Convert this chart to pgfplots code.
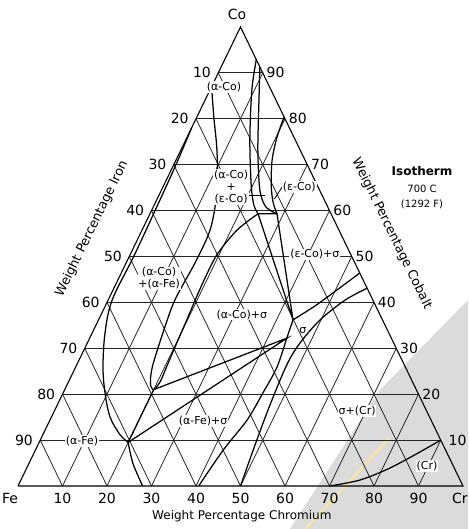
\documentclass[border=0pt]{standalone}
\usepackage{pgfplots}
\pgfplotsset{compat=1.18}
\usepackage{fontspec}
\setmainfont{DejaVu Sans}
\definecolor{scanyel}{RGB}{246,226,170}
\tikzset{gridl/.style={black!85,line width=0.8pt},
  pb/.style={black,line width=1.25pt},
  lab/.style={font=\fontsize{11}{12}\selectfont,fill=white,inner sep=0.8pt},
  tk/.style={font=\fontsize{14}{15}\selectfont,inner sep=1pt},
  tl/.style={tk,anchor=east},
  tr/.style={tk,anchor=west}}
\newcommand{\gl}[4]{\addplot[gridl] table[row sep=\\]{cr co\\ #1 #2\\ #3 #4\\};}
\begin{document}
\begin{tikzpicture}
\path[use as bounding box] (0,0) rectangle (468pt,529pt);
\begin{axis}[at={(18pt,43pt)},anchor=south west,width=445pt,height=459pt,scale only axis,
  xmin=0,xmax=100,ymin=0,ymax=100,axis lines=none,clip=false,
  table/x expr={\thisrow{cr}+0.5*\thisrow{co}}, table/y=co]
% scan shadow
\addplot[fill=black!14,draw=none] coordinates {(101.1,40.5) (81.3,20.9) (61.1,-9.4) (101.1,-9.4)};
\addplot[scanyel,line width=2.5pt] coordinates {(64.5,-9.4) (83.6,10.7)};
% grid: constant Co
\gl{0}{10}{90}{10}\gl{0}{20}{80}{20}\gl{0}{30}{70}{30}\gl{0}{40}{60}{40}\gl{0}{50}{50}{50}
\gl{0}{60}{40}{60}\gl{0}{70}{30}{70}\gl{0}{80}{20}{80}\gl{0}{90}{10}{90}
% constant Cr
\gl{10}{0}{10}{90}\gl{20}{0}{20}{80}\gl{30}{0}{30}{70}\gl{40}{0}{40}{60}\gl{50}{0}{50}{50}
\gl{60}{0}{60}{40}\gl{70}{0}{70}{30}\gl{80}{0}{80}{20}\gl{90}{0}{90}{10}
% constant Fe
\gl{10}{0}{0}{10}\gl{20}{0}{0}{20}\gl{30}{0}{0}{30}\gl{40}{0}{0}{40}\gl{50}{0}{0}{50}
\gl{60}{0}{0}{60}\gl{70}{0}{0}{70}\gl{80}{0}{0}{80}\gl{90}{0}{0}{90}
% frame
\addplot[black,line width=1.1pt] table[row sep=\\]{cr co\\ 0 0\\ 100 0\\ 0 100\\ 0 0\\};
% alpha-Fe boundary
\addplot[pb,smooth,tension=0.55] table{
cr co
0 78
0.5 70
0.8 60
1.0 50
0.9 40.5
2.9 33.3
6.15 25.9
9.4 20.3
13.2 15.0
17.3 11.2
20 9.5
};
\addplot[pb,smooth] table{
cr co
20 9.5
23.3 5.0
28 0
};
% alpha-Co boundary with tongue
\addplot[pb,smooth,tension=0.5] table{
cr co
0 87
3.8 80.4
8.1 73.2
12.5 64.5
15.2 56.2
15.5 49.2
15.0 40.5
15.9 33.3
17.2 26.0
18.6 22.3
20 21
20.6 22.8
20.4 26
20.1 31.2
19.8 36.8
19.4 44
19.5 50.3
21.1 55.3
22.8 57.7
24.3 59.3
};
\addplot[pb,smooth] table{
cr co
7.1 92.9
9.4 86.3
14.4 75.4
19.6 65.6
22.4 61.2
24.3 59.3
};
\addplot[pb,smooth] table{
cr co
8.7 91.3
12.1 84.1
17.3 73.2
22.1 64.5
25.3 60.8
28.55 59.3
};
\addplot[pb,smooth] table{
cr co
19.6 80.4
20.2 76.0
21.6 71.0
24.1 65.6
26.35 61.9
28.55 59.3
};
% three-phase triangles
\addplot[pb] table{
cr co
24.3 59.3
28.55 59.3
43.7 36.2
24.3 59.3
};
\addplot[pb] table{
cr co
20 9.5
20 21
44.3 32.2
20 9.5
};
% sigma boundaries
\addplot[pb,smooth,tension=0.5] table{
cr co
40.6 0
42.2 7.8
44.3 14.4
44.9 20.3
45.25 25.9
44.3 32.2
43.7 36.2
};
\addplot[pb,smooth] table{
cr co
43.7 36.2
47.1 39.2
50.5 42.9
53.6 46.4
};
\addplot[pb,smooth,tension=0.5] table{
cr co
50 0
48.8 8.9
47.8 17.6
47.2 26.4
47.8 31.2
49.8 36.2
53.25 40.5
56.9 43.1
};
% (Cr) boundary
\addplot[pb,smooth] table{
cr co
70 0
76.2 1.3
81.6 3.9
86.6 7.4
90 10
};
% leaders
\addplot[black,line width=0.8pt] coordinates {(51.7,63.4) (55.5,63.4)};
\addplot[black,line width=0.8pt] coordinates {(59.4,65.2) (57.6,62.5)};
% corner labels
\node[tk] at (axis cs:49.2,102.8) {Co};
\node[tk] at (axis cs:-1.8,-2.7) {Fe};
\node[tk,anchor=east,inner sep=0pt] at (axis cs:101.1,-2.7) {Cr};
% bottom ticks
\node[tk] at (axis cs:10,-2.7) {10};
\node[tk] at (axis cs:20,-2.7) {20};
\node[tk] at (axis cs:30,-2.7) {30};
\node[tk] at (axis cs:40,-2.7) {40};
\node[tk] at (axis cs:50,-2.7) {50};
\node[tk] at (axis cs:60,-2.7) {60};
\node[tk] at (axis cs:70,-2.7) {70};
\node[tk] at (axis cs:80,-2.7) {80};
\node[tk] at (axis cs:90,-2.7) {90};
% left ticks (iron)
\node[tl] at (axis cs:43.6,90) {10};
\node[tl] at (axis cs:38.6,80) {20};
\node[tl] at (axis cs:33.6,70) {30};
\node[tl] at (axis cs:28.6,60) {40};
\node[tl] at (axis cs:23.6,50) {50};
\node[tl] at (axis cs:18.6,40) {60};
\node[tl] at (axis cs:13.6,30) {70};
\node[tl] at (axis cs:8.6,20) {80};
\node[tl] at (axis cs:3.6,10) {90};
% right ticks (cobalt)
\node[tr] at (axis cs:55.6,90) {90};
\node[tr] at (axis cs:60.6,80) {80};
\node[tr] at (axis cs:65.6,70) {70};
\node[tr] at (axis cs:70.6,60) {60};
\node[tr] at (axis cs:75.6,50) {50};
\node[tr] at (axis cs:80.6,40) {40};
\node[tr] at (axis cs:85.6,30) {30};
\node[tr] at (axis cs:90.6,20) {20};
\node[tr] at (axis cs:96.5,10) {10};
% axis titles
\node[font=\fontsize{12}{13}\selectfont] at (axis cs:50.3,-6.6) {Weight Percentage Chromium};
\node[font=\fontsize{12.8}{14}\selectfont,rotate=64] at (axis cs:16.6,56.0) {Weight Percentage Iron};
\node[font=\fontsize{12.8}{14}\selectfont,rotate=-64] at (axis cs:84.0,55.0) {Weight Percentage Cobalt};
% title
\node[font=\fontsize{12}{13}\selectfont\bfseries] at (axis cs:90.8,68.6) {Isotherm};
\node[font=\fontsize{10}{11}\selectfont] at (axis cs:90.8,64.8) {700 C};
\node[font=\fontsize{10}{11}\selectfont] at (axis cs:90.8,61.3) {(1292 F)};
% phase labels
\node[lab] at (axis cs:46.3,86.9) {(α-Co)};
\node[lab,align=center] at (axis cs:47.9,65.1) {(α-Co)\\+\\(ε-Co)};
\node[lab] at (axis cs:63.2,65.1) {(ε-Co)};
\node[lab] at (axis cs:66.7,50.5) {(ε-Co)+σ};
\node[lab] at (axis cs:50.3,37.3) {(α-Co)+σ};
\node[font=\fontsize{11}{12}\selectfont,inner sep=0pt] at (axis cs:64.0,33.8) {σ};
\node[lab,align=center] at (axis cs:31.7,45.2) {(α-Co)\\+(α-Fe)};
\node[lab] at (axis cs:14.4,9.8) {(α-Fe)};
\node[lab] at (axis cs:41.6,14.2) {(α-Fe)+σ};
\node[lab] at (axis cs:76.2,16.3) {σ+(Cr)};
\node[lab] at (axis cs:91.9,4.4) {(Cr)};
\end{axis}
\end{tikzpicture}
\end{document}
